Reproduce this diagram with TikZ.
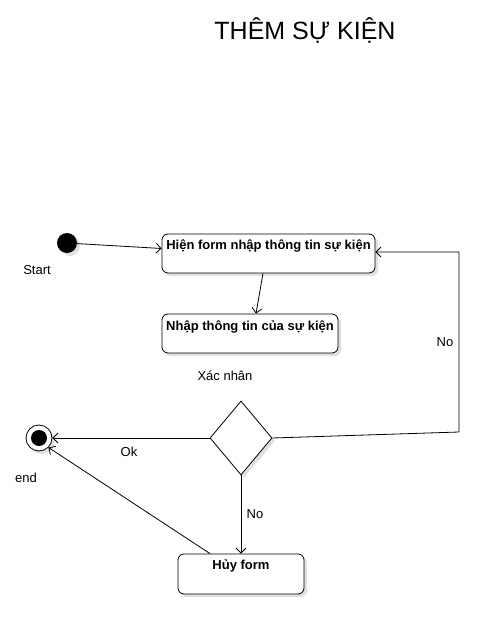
\documentclass[tikz,border=0pt]{standalone}
\usepackage{fontspec}
\setmainfont{Liberation Sans}
\usetikzlibrary{arrows.meta}
\usetikzlibrary{shapes.geometric}
\usetikzlibrary{shadows}

\tikzset{
  shade box/.style={drop shadow={shadow xshift=3pt, shadow yshift=-3pt, fill=black!12, opacity=1}},
  state/.style={draw, rounded corners=6pt, fill=white, line width=0.8pt, shade box, inner sep=0pt},
  flow/.style={line width=0.8pt, -{Straight Barb[length=5pt,width=10pt]}},
  txt/.style={font=\fontsize{13}{15}\selectfont},
  boldtxt/.style={font=\fontsize{13}{15}\selectfont\bfseries},
}

\begin{document}
\begin{tikzpicture}[x=1pt, y=-1pt]

\useasboundingbox (0,0) rectangle (499,634);

\node (title) at (305,30) {\fontsize{25}{30}\selectfont THÊM SỰ KIỆN};

\node[circle, fill=black, minimum size=20pt, inner sep=0pt, shade box] (start) at (67,243) {};
\node[txt] (startlbl) at (37,270) {Start};

\node[state, minimum width=213pt, minimum height=39pt] (show) at (268.5,253.5) {};
\node[boldtxt] (showtxt) at ([yshift=-12pt]show.north) {Hiện form nhập thông tin sự kiện};

\node[state, minimum width=176pt, minimum height=39pt] (input) at (250,333.5) {};
\node[boldtxt] (inputtxt) at ([yshift=-13pt]input.north) {Nhập thông tin của sự kiện};

\node[txt] (confirm) at (225,376) {Xác nhân};

\node[diamond, draw, fill=white, line width=0.8pt, minimum width=62pt, minimum height=74pt, inner sep=0pt, shade box] (check) at (241,438) {};

\node[circle, draw, fill=white, line width=0.8pt, minimum size=26pt, inner sep=0pt, shade box] (stop) at (39,438) {};
\node[circle, fill=black, minimum size=16pt, inner sep=0pt] (stopdot) at (stop) {};
\node[txt] (stoplbl) at (26,478) {end};

\node[state, minimum width=126pt, minimum height=40pt] (cancel) at (241,574) {};
\node[boldtxt] (canceltxt) at ([yshift=-12pt]cancel.north) {Hủy form};

\coordinate (turn) at (459,432);

\draw[flow] (start) -- ([yshift=5pt]show.west);
\draw[flow] ([xshift=-5.5pt]show.south) -- ([xshift=6pt]input.north);
\draw[flow] (check.west) -- (stop.east) node[txt, below, midway, xshift=-2pt, yshift=-5pt] {Ok};
\draw[flow] (check.east) -- (turn) |- node[txt, left, pos=0.25, xshift=-2pt] {No} ([yshift=1.5pt]show.east);
\draw[flow] (check.south) -- (cancel.north) node[txt, right, midway, xshift=2pt] {No};
\draw[flow] ([xshift=-31pt]cancel.north) -- (stop.south east);

\end{tikzpicture}
\end{document}
